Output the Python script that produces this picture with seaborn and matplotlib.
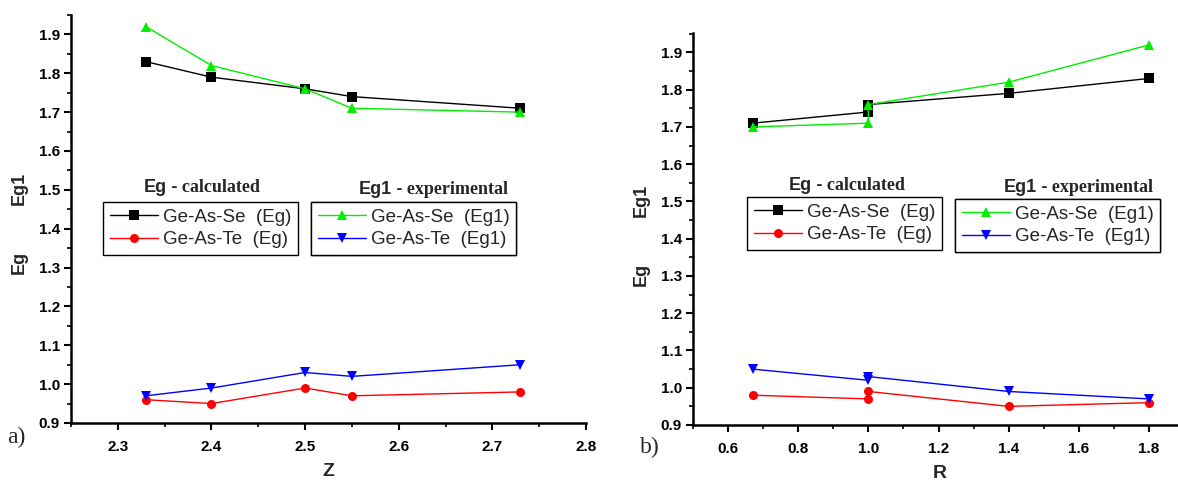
import matplotlib
matplotlib.use("Agg")
import matplotlib.pyplot as plt
import seaborn as sns
import numpy as np
from matplotlib.ticker import MultipleLocator
from matplotlib.lines import Line2D

sns.set_theme(style="ticks")
plt.rcParams['font.family'] = ['Liberation Sans', 'DejaVu Sans']

# ---------------- data ----------------
z_vals = [2.33, 2.40, 2.50, 2.55, 2.73]
r_vals = [0.67, 1.00, 1.00, 1.40, 1.80]

a_se_eg = [1.83, 1.79, 1.76, 1.74, 1.71]
a_se_eg1 = [1.92, 1.82, 1.76, 1.71, 1.70]
a_te_eg = [0.96, 0.95, 0.99, 0.97, 0.98]
a_te_eg1 = [0.97, 0.99, 1.03, 1.02, 1.05]

b_se_eg = [1.71, 1.74, 1.76, 1.79, 1.83]
b_se_eg1 = [1.70, 1.71, 1.76, 1.82, 1.92]
b_te_eg = [0.98, 0.97, 0.99, 0.95, 0.96]
b_te_eg1 = [1.05, 1.02, 1.03, 0.99, 0.97]

labels_calc = ["Ge-As-Se  (Eg)", "Ge-As-Te  (Eg)"]
labels_exp = ["Ge-As-Se  (Eg1)", "Ge-As-Te  (Eg1)"]
title_calc = ("Eg", " - calculated")
title_exp = ("Eg1", " - experimental")

colors = {"se_eg": "#000000", "te_eg": "#ff0000", "se_eg1": "#00ee00", "te_eg1": "#0000ff"}
markers = {"se_eg": "s", "te_eg": "o", "se_eg1": "^", "te_eg1": "v"}

W, H = 1178, 482
fig = plt.figure(figsize=(W / 100, H / 100), dpi=100)


def px_axes(l, t, r, b):
    return fig.add_axes([l / W, 1 - b / H, (r - l) / W, (b - t) / H])


def ftext(x, y, s, **kw):
    fig.text(x / W, 1 - y / H, s, **kw)


ax_a = px_axes(71, 15, 586, 423)
ax_b = px_axes(693, 33, 1184, 425)


def draw(ax, x, series):
    handles = {}
    for key, vals in series.items():
        sns.lineplot(x=x, y=vals, ax=ax, sort=False, estimator=None,
                     color=colors[key], marker=markers[key], markersize=6.5,
                     markeredgewidth=0, linewidth=1.0, legend=False)
        handles[key] = Line2D([], [], color=colors[key], marker=markers[key],
                              markersize=6.5, markeredgewidth=0, linewidth=1.0)
    return handles


ha = draw(ax_a, z_vals, {"se_eg": a_se_eg, "se_eg1": a_se_eg1,
                         "te_eg": a_te_eg, "te_eg1": a_te_eg1})
hb = draw(ax_b, r_vals, {"se_eg": b_se_eg, "se_eg1": b_se_eg1,
                         "te_eg": b_te_eg, "te_eg1": b_te_eg1})

ax_a.set_xlim(2.25, 2.8)
ax_a.set_ylim(0.9, 1.95)
ax_a.xaxis.set_major_locator(MultipleLocator(0.1))
ax_a.xaxis.set_minor_locator(MultipleLocator(0.05))
ax_b.set_xlim(0.5, 1.9)
ax_b.set_ylim(0.9, 1.952)
ax_b.xaxis.set_major_locator(MultipleLocator(0.2))
ax_b.xaxis.set_minor_locator(MultipleLocator(0.1))

for ax in (ax_a, ax_b):
    ax.yaxis.set_major_locator(MultipleLocator(0.1))
    ax.yaxis.set_minor_locator(MultipleLocator(0.05))
    for sp in ("top", "right"):
        ax.spines[sp].set_visible(False)
    for sp in ("left", "bottom"):
        ax.spines[sp].set_linewidth(1.8)
        ax.spines[sp].set_color("black")
    ax.tick_params(which="major", direction="out", length=5, width=1.5,
                   labelsize=11, colors="black")
    ax.tick_params(which="minor", direction="out", length=3, width=1.2,
                   colors="black")
    ax.tick_params(axis="x", pad=7)
    ax.tick_params(axis="y", pad=3)
    ax.yaxis.set_major_formatter(matplotlib.ticker.FormatStrFormatter("%.1f"))
    ax.xaxis.set_major_formatter(matplotlib.ticker.FormatStrFormatter("%.1f"))
    for lab in ax.get_xticklabels() + ax.get_yticklabels():
        lab.set_fontweight("bold")
    ax.set_xlabel("")
    ax.set_ylabel("")

# axis labels
ftext(328, 472, "Z", fontsize=14, fontweight="bold", ha="center", va="center")
ftext(940, 473, "R", fontsize=14, fontweight="bold", ha="center", va="center")
for x, y1, y2 in ((19, 188, 262), (641, 200, 274)):
    ftext(x, y1, "Eg1", fontsize=13, fontweight="bold", rotation=90, ha="center", va="center")
    ftext(x, y2, "Eg", fontsize=13, fontweight="bold", rotation=90, ha="center", va="center")

ftext(16, 437, "a)", fontsize=17, family="Liberation Serif", ha="center", va="center")
ftext(650, 447, "b)", fontsize=17, family="Liberation Serif", ha="center", va="center")

# legend titles
for (xa, ya, parts) in ((167, 188, title_calc), (392, 190, title_exp),
                        (812, 185, title_calc), (1037, 187, title_exp)):
    ftext(xa, ya, parts[0], fontsize=13, fontweight="bold", ha="right", va="center")
    ftext(xa, ya, parts[1], fontsize=13, fontweight="bold", family="Liberation Serif",
          ha="left", va="center")


def add_legend(ax, handles, labels, left, top):
    leg = ax.legend(handles, labels, loc="upper left",
                    bbox_to_anchor=(left / W, 1 - top / H),
                    bbox_transform=fig.transFigure, borderaxespad=0,
                    frameon=True, fancybox=False, framealpha=1,
                    edgecolor="black", fontsize=13.5, handlelength=2.6,
                    handletextpad=0.25, labelspacing=0.3, borderpad=0.35)
    leg.get_frame().set_linewidth(1.0)
    ax.add_artist(leg)
    return leg


add_legend(ax_a, [ha["se_eg"], ha["te_eg"]], labels_calc, 103, 202)
add_legend(ax_a, [ha["se_eg1"], ha["te_eg1"]], labels_exp, 311, 202)
add_legend(ax_b, [hb["se_eg"], hb["te_eg"]], labels_calc, 747, 197)
add_legend(ax_b, [hb["se_eg1"], hb["te_eg1"]], labels_exp, 955, 199)

fig.savefig("out.png", dpi=100, facecolor="white")
